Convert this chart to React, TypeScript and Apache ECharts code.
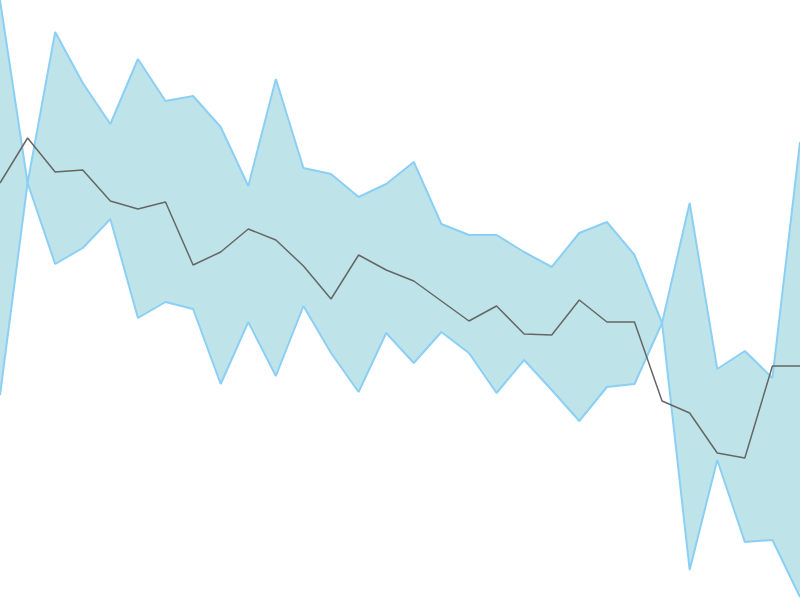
import React, { useEffect, useRef } from 'react'
import * as echarts from 'echarts'

// 30 evenly spaced samples
const categories = Array.from({ length: 30 }, (_, i) => String(i + 1))

const upperValues = [600, 417, 568, 517, 476, 541, 499, 504, 473, 414, 521, 432, 426, 403, 416, 438, 376, 365, 365, 348, 333, 367, 378, 345, 277, 397, 231, 249, 222, 458]
const lowerValues = [205, 417, 336, 352, 381, 282, 298, 291, 216, 278, 224, 294, 247, 208, 267, 237, 268, 247, 207, 240, 210, 179, 213, 216, 277, 30, 140, 58, 60, 3]
const meanValues = [417, 462, 428, 430, 399, 391, 398, 335, 348, 371, 360, 334, 301, 345, 330, 319, 299, 279, 294, 266, 265, 300, 278, 278, 199, 187, 147, 142, 234, 234]

const App: React.FC = () => {
  const chartRef = useRef<HTMLDivElement>(null)

  useEffect(() => {
    document.body.style.margin = '0'
    if (!chartRef.current) return
    const chart = echarts.init(chartRef.current, null, { renderer: 'svg' })

    // band drawn as lower + (upper - lower) stacked
    const bandValues = upperValues.map((v, i) => v - lowerValues[i])

    const option: echarts.EChartsOption = {
      animation: false,
      grid: { left: 0, right: 0, top: 0, bottom: 0 },
      xAxis: {
        type: 'category',
        data: categories,
        boundaryGap: false,
        show: false
      },
      yAxis: {
        type: 'value',
        min: 0,
        max: 600,
        show: false
      },
      series: [
        {
          name: 'Lower',
          type: 'line',
          data: lowerValues,
          stack: 'band',
          stackStrategy: 'all',
          symbol: 'none',
          lineStyle: { color: '#8ccff5', width: 2 }
        },
        {
          name: 'Upper',
          type: 'line',
          data: bandValues,
          stack: 'band',
          stackStrategy: 'all',
          symbol: 'none',
          lineStyle: { color: '#8ccff5', width: 2 },
          areaStyle: { color: '#bee4e9', opacity: 1 }
        },
        {
          name: 'Mean',
          type: 'line',
          data: meanValues,
          symbol: 'none',
          lineStyle: { color: '#666666', width: 1.5 }
        }
      ] as any
    }

    chart.setOption(option)
    return () => {
      chart.dispose()
    }
  }, [])

  return <div ref={chartRef} style={{ width: '800px', height: '600px' }} />
}

export default App
